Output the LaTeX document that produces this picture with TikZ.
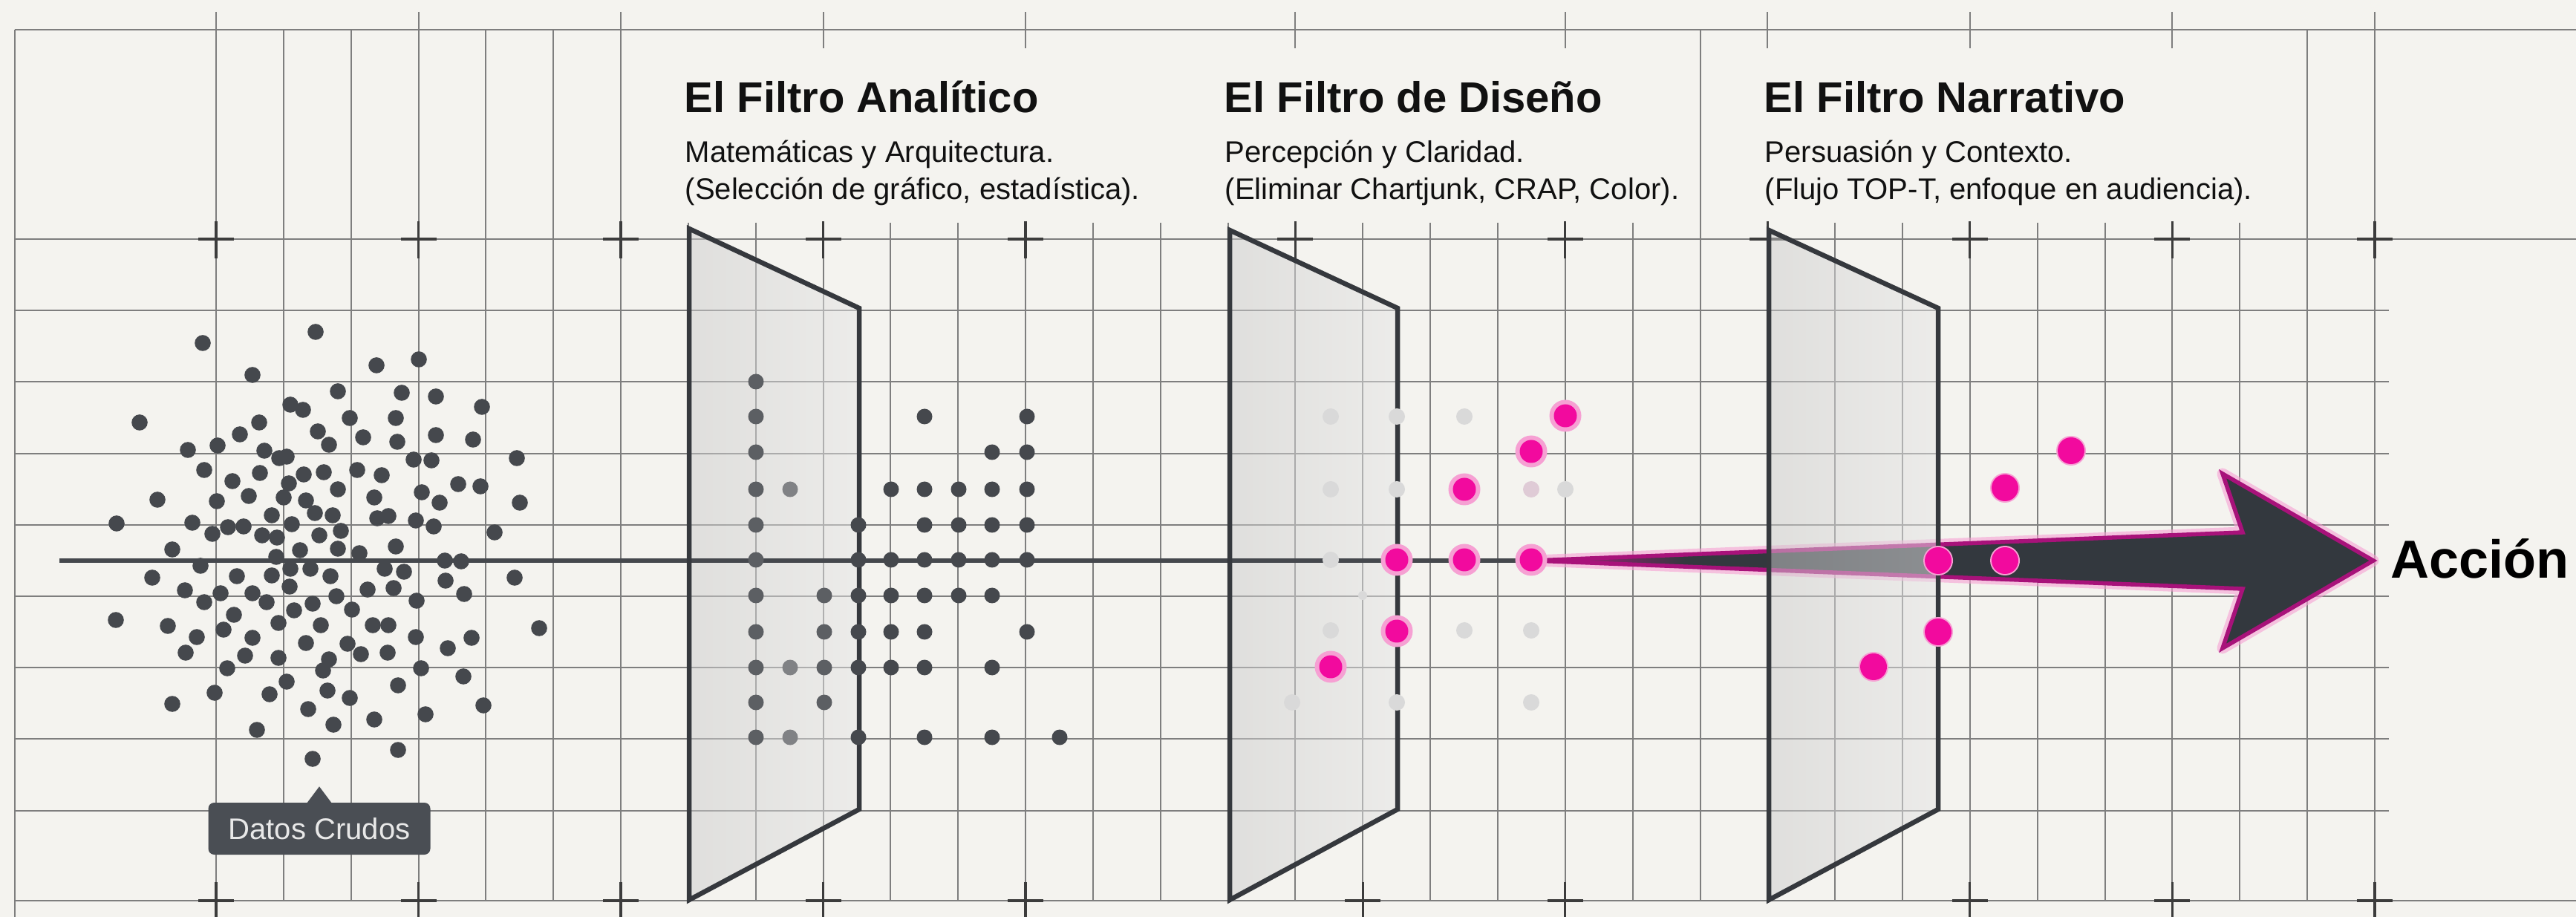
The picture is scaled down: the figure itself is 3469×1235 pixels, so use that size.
\documentclass[tikz,border=0pt]{standalone}
\usepackage{fontspec}
\setmainfont{Liberation Sans}
\definecolor{bgc}{HTML}{F4F3EF}
\definecolor{gridc}{HTML}{7E7E7E}
\definecolor{crossc}{HTML}{3C3C3C}
\definecolor{dotc}{HTML}{45484D}
\definecolor{dotmid}{HTML}{5C5F63}
\definecolor{dotlight}{HTML}{808285}
\definecolor{faintc}{HTML}{D9D9D9}
\definecolor{faintpink}{HTML}{DFCBD6}
\definecolor{panelc}{HTML}{35383D}
\definecolor{pinkc}{HTML}{F20A9E}
\definecolor{pinkhalo}{HTML}{F6A0D3}
\definecolor{arrowfill}{HTML}{33383E}
\definecolor{arrowborder}{HTML}{A8127A}
\definecolor{arrowpink}{HTML}{C8158C}
\definecolor{labelc}{HTML}{4A4E54}
\definecolor{labeltext}{HTML}{E8E8E8}
\definecolor{textc}{HTML}{111111}
\pgfdeclarehorizontalshading{arrowshade}{100bp}{color(0bp)=(arrowpink); color(25bp)=(arrowpink); color(34bp)=(arrowfill); color(100bp)=(arrowfill)}
\begin{document}
\begin{tikzpicture}[x=0.1mm,y=-0.1mm,
  gridline/.style={draw=gridc, line width=0.2mm},
  crossmark/.style={draw=crossc, line width=0.32mm},
  panelfill/.style={left color=HTML-panelL, right color=HTML-panelR, fill opacity=0.5},
  paneledge/.style={draw=panelc, line width=0.65mm, line join=miter},
  titlet/.style={anchor=base west, inner sep=0pt, text=textc, font=\fontsize{16.5pt}{20pt}\selectfont\bfseries},
  subt/.style={anchor=base west, inner sep=0pt, text=textc, font=\fontsize{11.4pt}{14pt}\selectfont},
  ]
\colorlet{HTML-panelL}{black!20}
\colorlet{HTML-panelR}{black!10}
\useasboundingbox (0,0) rectangle (3469,1235);
\fill[bgc] (0,0) rectangle (3469,1235);

% ---------- grid ----------
\foreach \k in {0,...,32} {\draw[gridline] ({291+90.84*\k},300) -- ({291+90.84*\k},1213);}
\foreach \k in {0,1,2,3,4,5,6,22,31,32} {\draw[gridline] ({291+90.84*\k},40) -- ({291+90.84*\k},300);}
\foreach \j in {1,...,8} {\draw[gridline] (20,{322+96.2*\j}) -- (3217,{322+96.2*\j});}
\draw[gridline] (20,40) -- (3469,40);
\draw[gridline] (20,322) -- (3469,322);
\draw[gridline] (20,1213) -- (3469,1213);
\draw[gridline] (20,40) -- (20,1235);
% top ticks and crosses
\foreach \k in {0,3,6,9,12,16,20,23,26,29,32} {
  \draw[gridline] ({291+90.84*\k},16) -- ({291+90.84*\k},65);
  \draw[crossmark] ({291+90.84*\k-24},322) -- ({291+90.84*\k+24},322);
  \draw[crossmark] ({291+90.84*\k},298) -- ({291+90.84*\k},348);
}
% bottom crosses
\foreach \k in {0,3,6,9,12,17,20,26,29,32} {
  \draw[crossmark] ({291+90.84*\k-24},1213) -- ({291+90.84*\k+24},1213);
  \draw[crossmark] ({291+90.84*\k},1188) -- ({291+90.84*\k},1235);
}

% ---------- raw data scatter ----------
\foreach \x/\y in {273/462,425/447,564/484,507/492,340/505,455/527,541/529,587/534,649/548,391/545,408/552,188/569,349/569,471/563,533/563,323/585,428/581,489/589,535/595,587/586,637/592,443/599,253/606,293/600,356/607,376/617,386/615,557/619,581/620,696/617,
275/633,313/648,350/637,409/639,436/636,481/633,514/640,389/651,455/659,617/652,647/655,212/673,292/675,335/668,382/670,412/674,504/670,568/663,592/677,700/677,424/691,366/694,448/694,508/698,523/695,560/701,157/705,259/704,307/710,328/709,393/706,584/709,286/719,353/721,373/724,430/721,459/715,666/717,232/740,404/741,455/739,484/745,533/736,372/750,599/755,621/756,270/762,391/766,418/766,518/766,544/770,205/778,319/776,366/775,445/776,600/782,693/778,249/795,390/790,495/794,530/792,297/799,340/799,453/803,625/800,275/811,359/811,421/813,561/809,396/822,474/821,315/828,156/835,226/843,375/839,432/842,502/842,523/842,726/846,301/848,265/858,340/859,560/858,635/859,412/866,468/867,603/873,250/879,330/883,375/886,486/881,522/879,443/888,306/900,435/903,567/900,624/911,386/918,536/923,289/933,363/935,441/930,471/940,232/948,651/950,415/955,573/962,504/969,449/976,346/983,536/1010,421/1022}
  {\fill[dotc] (\x,\y) circle[radius=1.08mm];}

% ---------- arrow ----------
\coordinate (a0) at (2066,755);
\coordinate (a1) at (3020,717);
\coordinate (a2) at (2993,638);
\coordinate (a3) at (3196,755);
\coordinate (a4) at (2993,873);
\coordinate (a5) at (3020,793);
\draw[pinkhalo, line width=1.5mm, line join=round, opacity=0.6] (a0) -- (a1) -- (a2) -- (a3) -- (a4) -- (a5) -- cycle;
\shade[shading=arrowshade] (a0) -- (a1) -- (a2) -- (a3) -- (a4) -- (a5) -- cycle;
\draw[arrowborder, line width=0.55mm, line join=miter] (a0) -- (a1) -- (a2) -- (a3) -- (a4) -- (a5) -- cycle;

% ---------- panels ----------
\shade[panelfill] (928,308) -- (1157,415) -- (1157,1090) -- (928,1212) -- cycle;
\shade[panelfill] (1656,310) -- (1882,415) -- (1882,1090) -- (1656,1212) -- cycle;
\shade[panelfill] (2382,310) -- (2610,415) -- (2610,1090) -- (2382,1212) -- cycle;

% axis
\coordinate (axs) at (80,755);
\coordinate (axe) at (2062,755);
\draw[dotc, line width=0.6mm] (axs) -- (axe);

\draw[paneledge] (928,308) -- (1157,415) -- (1157,1090) -- (928,1212) -- cycle;
\draw[paneledge] (1656,310) -- (1882,415) -- (1882,1090) -- (1656,1212) -- cycle;
\draw[paneledge] (2382,310) -- (2610,415) -- (2610,1090) -- (2382,1212) -- cycle;

% ---------- analytic filter dots ----------
\foreach \x/\y in {1018/514,1018/561,1018/609,1018/659,1018/707,1018/754,1018/802,1018/851,1018/899,1018/946,1018/993,1110/802,1110/851,1110/899,1110/946}
  {\fill[dotmid] (\x,\y) circle[radius=1.05mm];}
\foreach \x/\y in {1064/659,1064/899,1064/993}
  {\fill[dotlight] (\x,\y) circle[radius=1.05mm];}
\foreach \x/\y in {1245/561,1383/561,1336/609,1383/609,1200/659,1245/659,1291/659,1336/659,1383/659,1156/707,1245/707,1291/707,1336/707,1383/707,1156/754,1200/754,1245/754,1291/754,1336/754,1383/754,1156/802,1200/802,1245/802,1291/802,1336/802,1156/851,1200/851,1245/851,1383/851,1156/899,1200/899,1245/899,1336/899,1156/993,1245/993,1336/993,1427/993}
  {\fill[dotc] (\x,\y) circle[radius=1.05mm];}

% ---------- design filter dots ----------
\foreach \x/\y in {1792/561,1881/561,1972/561,1792/659,1881/659,2108/659,1792/754,1792/849,1972/849,2062/849,1740/946,1881/946,2062/946}
  {\fill[faintc] (\x,\y) circle[radius=1.1mm];}
\fill[faintpink] (2062,659) circle[radius=1.1mm];
\fill[faintc] (1835,802) circle[radius=0.6mm];
\foreach \x/\y in {2108/560,2062/608,1972/659,1881/754,1972/754,2062/754,1881/850,1792/898}
  {\fill[pinkhalo] (\x,\y) circle[radius=2.15mm];
   \fill[pinkc] (\x,\y) circle[radius=1.55mm];}

% ---------- narrative filter dots ----------
\foreach \x/\y in {2789/607,2700/657,2610/755,2700/755,2610/851,2523/898}
  {\fill[pinkhalo] (\x,\y) circle[radius=2.0mm];
   \fill[pinkc] (\x,\y) circle[radius=1.8mm];}

% ---------- texts ----------
\node[titlet] (tA) at (921,152) {El Filtro Analítico};
\node[subt] (sA1) at (922,219) {Matemáticas y Arquitectura.};
\node[subt] (sA2) at (922,269) {(Selección de gráfico, estadística).};
\node[titlet] (tD) at (1648,152) {El Filtro de Diseño};
\node[subt] (sD1) at (1649,219) {Percepción y Claridad.};
\node[subt] (sD2) at (1649,269) {(Eliminar Chartjunk, CRAP, Color).};
\node[titlet] (tN) at (2375,152) {El Filtro Narrativo};
\node[subt] (sN1) at (2376,219) {Persuasión y Contexto.};
\node[subt] (sN2) at (2376,269) {(Flujo TOP-T, enfoque en audiencia).};

\node[anchor=base west, inner sep=0pt, text=black, font=\fontsize{20.5pt}{24pt}\selectfont\bfseries] (acc) at (3219,778) {Acción};

% Datos Crudos callout
\node[fill=labelc, text=labeltext, rounded corners=0.8mm, minimum width=29.9mm, minimum height=7mm, inner sep=0pt, font=\fontsize{11.4pt}{14pt}\selectfont] (dc) at (430,1116) {Datos Crudos};
\fill[labelc] ([xshift=-1.8mm,yshift=-0.3mm]dc.north) -- ([yshift=2.1mm]dc.north) -- ([xshift=1.8mm,yshift=-0.3mm]dc.north) -- cycle;
\end{tikzpicture}
\end{document}
